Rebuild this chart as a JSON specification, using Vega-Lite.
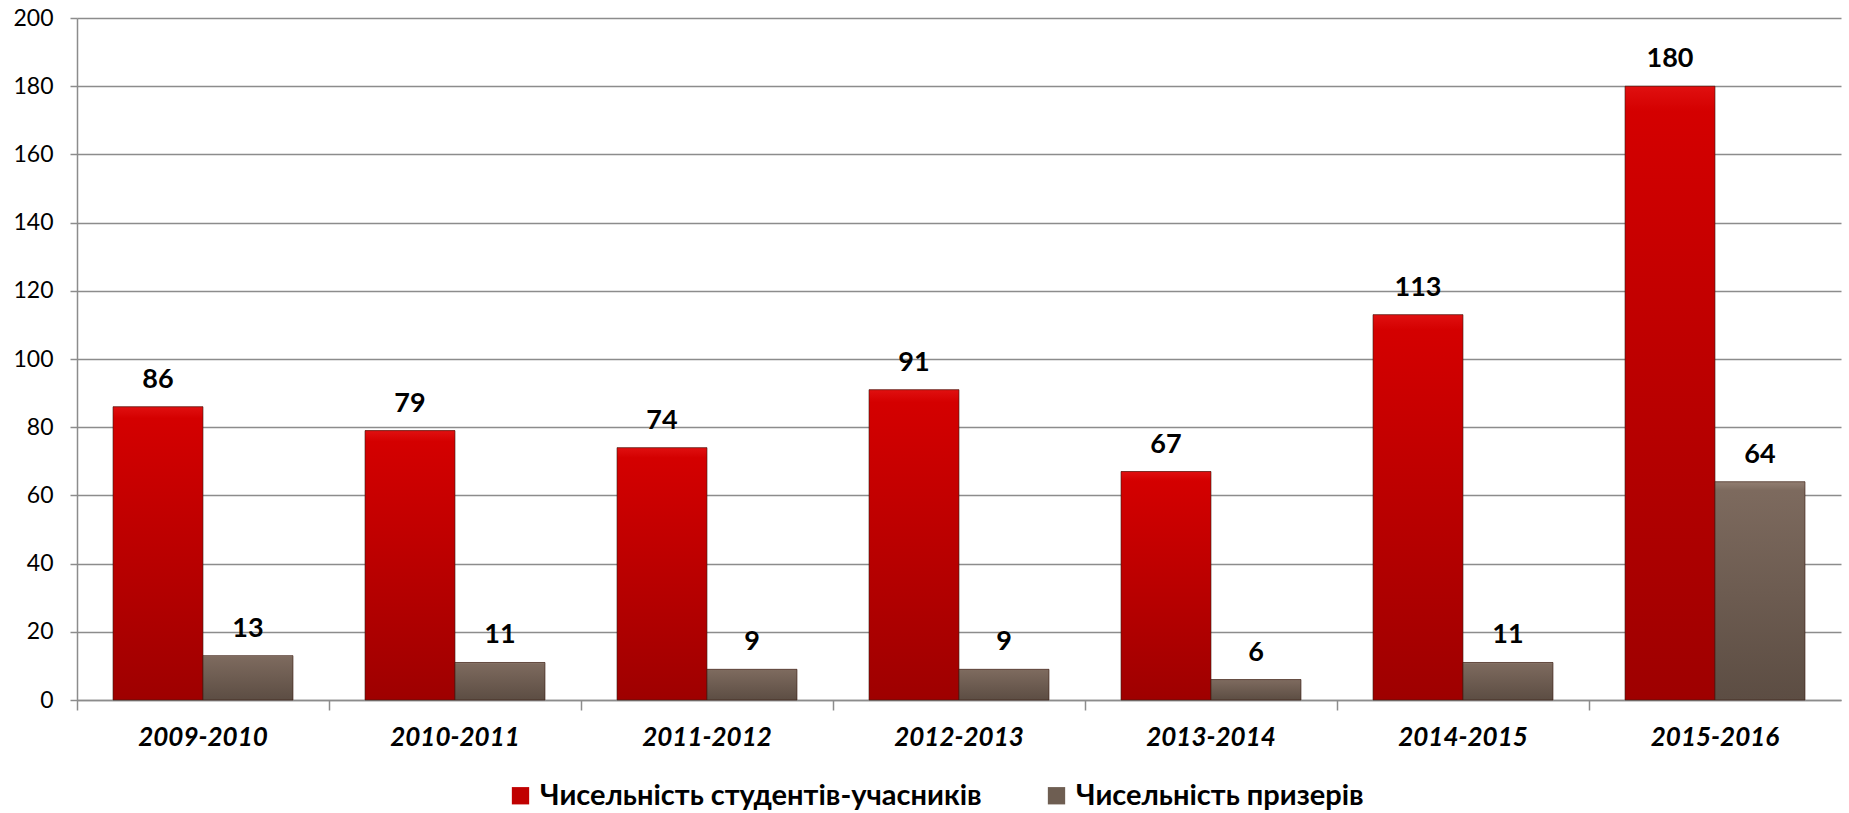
{
  "$schema": "https://vega.github.io/schema/vega-lite/v6.json",
  "width": 1764,
  "height": 682,
  "autosize": {"type": "none"},
  "padding": {"left": 77, "top": 18, "right": 8, "bottom": 113},
  "background": "white",
  "config": {
    "font": "Lato",
    "view": {"stroke": null},
    "axis": {"domainColor": "#8c8c8c", "tickColor": "#8c8c8c", "gridColor": "#8c8c8c", "labelColor": "#000000", "domainWidth": 1.5, "tickWidth": 1.5, "gridWidth": 1.5}
  },
  "data": {
    "values": [
      {"year": "2009-2010", "series": "Чисельність студентів-учасників", "value": 86},
      {"year": "2009-2010", "series": "Чисельність призерів", "value": 13},
      {"year": "2010-2011", "series": "Чисельність студентів-учасників", "value": 79},
      {"year": "2010-2011", "series": "Чисельність призерів", "value": 11},
      {"year": "2011-2012", "series": "Чисельність студентів-учасників", "value": 74},
      {"year": "2011-2012", "series": "Чисельність призерів", "value": 9},
      {"year": "2012-2013", "series": "Чисельність студентів-учасників", "value": 91},
      {"year": "2012-2013", "series": "Чисельність призерів", "value": 9},
      {"year": "2013-2014", "series": "Чисельність студентів-учасників", "value": 67},
      {"year": "2013-2014", "series": "Чисельність призерів", "value": 6},
      {"year": "2014-2015", "series": "Чисельність студентів-учасників", "value": 113},
      {"year": "2014-2015", "series": "Чисельність призерів", "value": 11},
      {"year": "2015-2016", "series": "Чисельність студентів-учасників", "value": 180},
      {"year": "2015-2016", "series": "Чисельність призерів", "value": 64}
    ]
  },
  "encoding": {
    "x": {
      "field": "year", "type": "nominal", "sort": null,
      "scale": {"paddingInner": 0, "paddingOuter": 0},
      "axis": {"title": null, "labelAngle": 0, "labelFontSize": 26, "labelFontWeight": "bold", "labelFontStyle": "italic", "labelBaseline": "middle", "tickSize": 10, "labelPadding": 27, "bandPosition": 0, "grid": false}
    },
    "xOffset": {
      "field": "series", "type": "nominal", "sort": ["Чисельність студентів-учасників", "Чисельність призерів"],
      "scale": {"paddingInner": 0, "paddingOuter": 0.4}
    },
    "y": {
      "field": "value", "type": "quantitative",
      "scale": {"domain": [0, 200], "nice": false},
      "axis": {"title": null, "values": [0, 20, 40, 60, 80, 100, 120, 140, 160, 180, 200], "labelFontSize": 23, "tickSize": 7, "labelPadding": 17, "grid": true}
    }
  },
  "layer": [
    {
      "mark": {"type": "bar"},
      "encoding": {
        "color": {
          "field": "series", "type": "nominal", "sort": ["Чисельність студентів-учасників", "Чисельність призерів"],
          "scale": {"range": ["#c00000", "#6e5e52"]},
          "legend": {"title": null, "orient": "none", "legendX": 429, "legendY": 763, "direction": "horizontal", "symbolType": "square", "symbolSize": 300, "symbolStrokeWidth": 0, "labelFontSize": 29, "labelFontWeight": 700, "labelFont": "Lato", "labelColor": "#000000", "labelOffset": 5, "columnPadding": 60, "labelLimit": 700, "padding": 0}
        }
      }
    },
    {
      "mark": {"type": "bar", "stroke": "#3a1a10", "strokeWidth": 1, "strokeOpacity": 0.6},
      "encoding": {
        "fill": {
          "condition": {
            "test": "datum.series === 'Чисельність студентів-учасників'",
            "value": {"gradient": "linear", "x1": 0, "y1": 0, "x2": 0, "y2": 1, "stops": [{"offset": 0, "color": "#e01010"}, {"offset": 0.04, "color": "#d40000"}, {"offset": 1, "color": "#9e0000"}]}
          },
          "value": {"gradient": "linear", "x1": 0, "y1": 0, "x2": 0, "y2": 1, "stops": [{"offset": 0, "color": "#927e72"}, {"offset": 0.04, "color": "#7d6a5e"}, {"offset": 1, "color": "#5c4d43"}]}
        }
      }
    },
    {
      "mark": {"type": "text", "fontSize": 27, "fontWeight": "bold", "color": "#000000", "baseline": "alphabetic", "dy": -19},
      "encoding": {"text": {"field": "value", "type": "quantitative"}}
    }
  ]
}
